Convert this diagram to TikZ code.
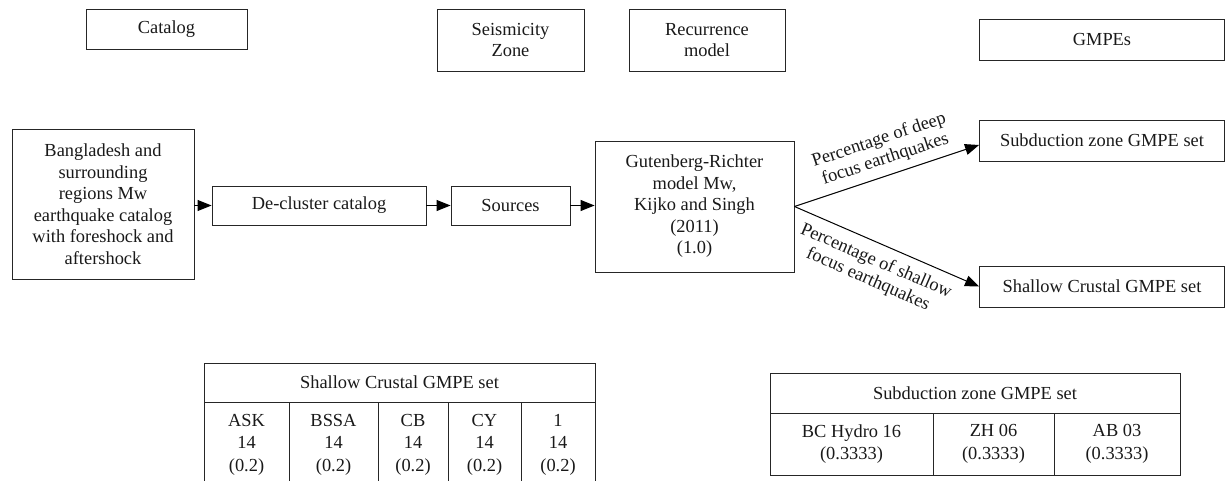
\documentclass[tikz,border=0pt]{standalone}
\usepackage{fontspec}
\setmainfont{Liberation Serif}
\usetikzlibrary{arrows.meta}
\begin{document}
\begin{tikzpicture}[x=1pt,y=-1pt,
  box/.style={draw=black!85, line width=0.9pt, inner sep=0pt, align=center,
    font=\fontsize{18.4}{21.5}\selectfont, text=black!90},
  cell/.style={box, font=\fontsize{18.4}{22.5}\selectfont},
  arr/.style={-{Triangle[length=14pt,width=11pt]}, line width=1pt, draw=black},
  lbl/.style={font=\fontsize{18.4}{20}\selectfont, align=center, inner sep=1pt, text=black!90}
]
\useasboundingbox (0,0) rectangle (1225,481);
\clip (0,0) rectangle (1225,481);

% header boxes
\node[box, minimum width=161pt, minimum height=40pt] (cat) at (166.5,29) {Catalog};
\node[box, minimum width=147pt, minimum height=62pt] (seis) at (510.5,40) {Seismicity\\Zone};
\node[box, minimum width=156pt, minimum height=62pt] (rec) at (707,40) {Recurrence\\model};
\node[box, minimum width=245pt, minimum height=41pt] (gmpe) at (1102,39.5) {GMPEs};

% main flow
\node[box, minimum width=182pt, minimum height=150pt] (bang) at (103,204)
  {Bangladesh and\\surrounding\\regions Mw\\earthquake catalog\\with foreshock and\\aftershock};
\node[box, minimum width=214pt, minimum height=39pt] (dec) at (319,205.5) {De-cluster catalog};
\node[box, minimum width=119pt, minimum height=39pt] (src) at (510.5,205.5) {Sources};
\node[box, minimum width=199pt, minimum height=131pt] (gr) at (694.5,206.5)
  {Gutenberg-Richter\\model Mw,\\Kijko and Singh\\(2011)\\(1.0)};
\node[box, minimum width=245pt, minimum height=41pt] (sub) at (1102,140.5) {Subduction zone GMPE set};
\node[box, minimum width=245pt, minimum height=41pt] (shal) at (1102,286.5) {Shallow Crustal GMPE set};

\draw[arr] (bang.east |- dec.west) -- (dec.west);
\draw[arr] (dec.east) -- (src.west);
\draw[arr] (src.east) -- (src.east -| gr.west);
\draw[arr] (gr.east) -- node[lbl, sloped, above=6pt, pos=0.52] {Percentage of deep\\focus earthquakes} ([yshift=-4.5pt]sub.west);
\draw[arr] (gr.east) -- node[lbl, sloped, below=8pt, pos=0.48] {Percentage of shallow\\focus earthquakes} (shal.west);

% shallow crustal table
\node[cell, minimum width=391pt, minimum height=39pt] (sh) at (399.5,382.5) {Shallow Crustal GMPE set};
\node[cell, minimum width=85pt, minimum height=85pt] (s1) at (246.5,444.5) {ASK\\14\\(0.2)};
\node[cell, minimum width=89pt, minimum height=85pt] (s2) at (333.5,444.5) {BSSA\\14\\(0.2)};
\node[cell, minimum width=70pt, minimum height=85pt] (s3) at (413,444.5) {CB\\14\\(0.2)};
\node[cell, minimum width=73pt, minimum height=85pt] (s4) at (484.5,444.5) {CY\\14\\(0.2)};
\node[cell, minimum width=74pt, minimum height=85pt] (s5) at (558,444.5) {1\\14\\(0.2)};

% subduction table
\node[cell, minimum width=410pt, minimum height=40pt] (suh) at (975,393) {Subduction zone GMPE set};
\node[cell, minimum width=163pt, minimum height=62pt] (u1) at (851.5,444) {BC Hydro 16\\(0.3333)};
\node[cell, minimum width=121pt, minimum height=62pt] (u2) at (993.5,444) {ZH 06\\(0.3333)};
\node[cell, minimum width=126pt, minimum height=62pt] (u3) at (1117,444) {AB 03\\(0.3333)};
\end{tikzpicture}
\end{document}
